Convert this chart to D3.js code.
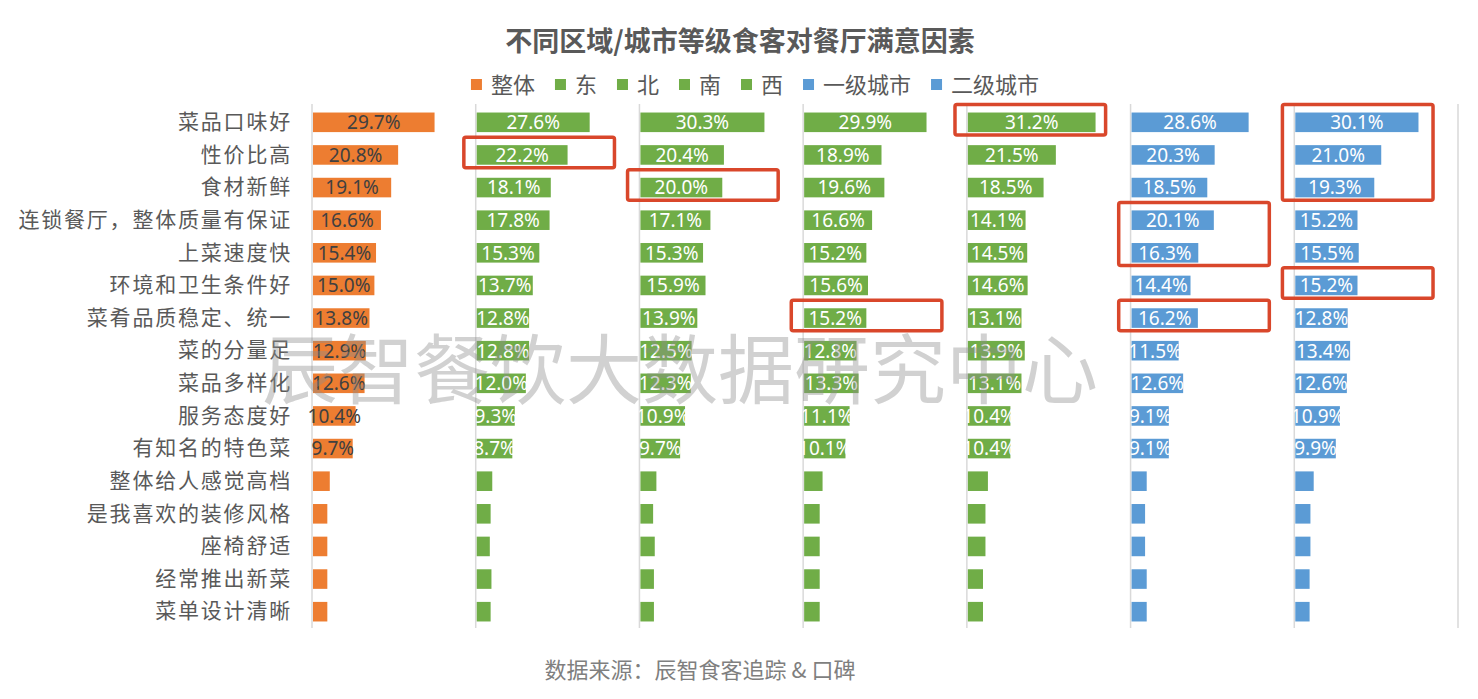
<!DOCTYPE html>
<html>
<head>
<meta charset="utf-8">
<script src="https://cdn.jsdelivr.net/npm/d3@7"></script>
<style>
  body { margin: 0; background: #fff; }
  svg { display: block; font-family: "Noto Sans CJK SC", "Noto Sans", sans-serif; }
</style>
</head>
<body>
<svg></svg>
<script>
// categories (top to bottom)
const categories = ["菜品口味好", "性价比高", "食材新鲜", "连锁餐厅，整体质量有保证", "上菜速度快",
  "环境和卫生条件好", "菜肴品质稳定、统一", "菜的分量足", "菜品多样化", "服务态度好", "有知名的特色菜",
  "整体给人感觉高档", "是我喜欢的装修风格", "座椅舒适", "经常推出新菜", "菜单设计清晰"];

const panels = ["整体", "东", "北", "南", "西", "一级城市", "二级城市"];
const panelColors = ["#ED7D31", "#70AD47", "#70AD47", "#70AD47", "#70AD47", "#5B9BD5", "#5B9BD5"];

// values in % (hidden ones estimated)
const vOverall = [29.7, 20.8, 19.1, 16.6, 15.4, 15.0, 13.8, 12.9, 12.6, 10.4, 9.7, 4.1, 3.5, 3.5, 3.5, 3.5];
const vEast    = [27.6, 22.2, 18.1, 17.8, 15.3, 13.7, 12.8, 12.8, 12.0, 9.3, 8.7, 3.8, 3.4, 3.2, 3.6, 3.4];
const vNorth   = [30.3, 20.4, 20.0, 17.1, 15.3, 15.9, 13.9, 12.5, 12.3, 10.9, 9.7, 3.9, 3.1, 3.5, 3.3, 3.3];
const vSouth   = [29.9, 18.9, 19.6, 16.6, 15.2, 15.6, 15.2, 12.8, 13.3, 11.1, 10.1, 4.5, 3.8, 3.8, 3.8, 3.8];
const vWest    = [31.2, 21.5, 18.5, 14.1, 14.5, 14.6, 13.1, 13.9, 13.1, 10.4, 10.4, 4.9, 4.3, 4.3, 3.7, 3.7];
const vTier1   = [28.6, 20.3, 18.5, 20.1, 16.3, 14.4, 16.2, 11.5, 12.6, 9.1, 9.1, 3.7, 3.3, 3.3, 3.7, 3.7];
const vTier2   = [30.1, 21.0, 19.3, 15.2, 15.5, 15.2, 12.8, 13.4, 12.6, 10.9, 9.9, 4.5, 3.7, 3.7, 3.5, 3.5];
const panelValues = [vOverall, vEast, vNorth, vSouth, vWest, vTier1, vTier2];

const labeledRows = 11; // only the first 11 rows carry value labels

// red highlight boxes: panel, first row, last row
const highlights = [
  { panel: "西", from: 0, to: 0 },
  { panel: "东", from: 1, to: 1 },
  { panel: "北", from: 2, to: 2 },
  { panel: "一级城市", from: 3, to: 4 },
  { panel: "二级城市", from: 0, to: 2 },
  { panel: "二级城市", from: 5, to: 5 },
  { panel: "南", from: 6, to: 6 },
  { panel: "一级城市", from: 6, to: 6 }
];

const title = "不同区域/城市等级食客对餐厅满意因素";
const source = "数据来源：辰智食客追踪 & 口碑";
const watermark = "辰智餐饮大数据研究中心";

const width = 1478, height = 699;
const svg = d3.select("svg").attr("width", width).attr("height", height);

const panelScale = d3.scaleBand().domain(panels).range([312, 1458]);
const valueScale = d3.scaleLinear().domain([0, 40]).range([0, panelScale.bandwidth()]);
const rowScale = d3.scaleBand().domain(categories).range([106, 628])
  .paddingInner(0.4).paddingOuter(0.2);

// title
svg.append("text")
  .attr("x", 740).attr("y", 51)
  .attr("text-anchor", "middle")
  .attr("font-size", 27).attr("font-weight", "bold")
  .attr("fill", "#595959")
  .text(title);

// legend
let legend = svg.append("g");
let lx = 0;
panels.forEach((p, i) => {
  let g = legend.append("g").attr("transform", "translate(" + lx + ",0)");
  g.append("rect").attr("x", 0).attr("y", -6).attr("width", 11).attr("height", 11)
    .attr("fill", panelColors[i]);
  let t = g.append("text").attr("x", 20).attr("y", 0).attr("dy", "0.35em")
    .attr("font-size", 22).attr("fill", "#595959").text(p);
  lx += 20 + t.node().getComputedTextLength() + 20;
});
legend.attr("transform", "translate(" + (755 - (lx - 20) / 2) + ",85)");

// category axis
let yAxis = svg.append("g")
  .attr("transform", "translate(292,0)")
  .call(d3.axisLeft(rowScale).tickSize(0).tickPadding(0));
yAxis.select(".domain").remove();
yAxis.selectAll("text")
  .attr("font-size", 21).attr("fill", "#595959")
  .attr("letter-spacing", 1.8)
  .style("font-family", "'Noto Sans CJK SC', sans-serif");

// vertical grid lines at each panel edge
const edges = panels.map(p => panelScale(p)).concat([panelScale.range()[1]]);
svg.append("g").selectAll("line")
  .data(edges).enter().append("line")
  .attr("x1", d => d).attr("x2", d => d)
  .attr("y1", 104).attr("y2", 628)
  .attr("stroke", "#d9d9d9").attr("stroke-width", 1.5);

// clip paths so labels do not spill left of their panel axis
let defs = svg.append("defs");
panels.forEach((p, i) => {
  defs.append("clipPath").attr("id", "clip" + i)
    .append("rect")
    .attr("x", i == 0 ? 0 : panelScale(p))
    .attr("y", 0)
    .attr("width", i == 0 ? panelScale(p) + panelScale.bandwidth() : panelScale.bandwidth())
    .attr("height", height);
});

// panels
panels.forEach((p, i) => {
  let data = categories.map((c, j) => ({ cat: c, value: panelValues[i][j], idx: j }));
  let g = svg.append("g").attr("transform", "translate(" + panelScale(p) + ",0)");

  g.selectAll("rect")
    .data(data).enter().append("rect")
    .attr("x", 1)
    .attr("y", d => rowScale(d.cat))
    .attr("width", d => valueScale(d.value))
    .attr("height", rowScale.bandwidth())
    .attr("fill", panelColors[i]);

  svg.append("g")
    .attr("clip-path", "url(#clip" + i + ")")
    .selectAll("text")
    .data(data.filter(d => d.idx < labeledRows)).enter().append("text")
    .attr("x", d => panelScale(p) + 1 + valueScale(d.value) / 2)
    .attr("y", d => rowScale(d.cat) + rowScale.bandwidth() / 2)
    .attr("dy", "0.36em")
    .attr("text-anchor", "middle")
    .attr("font-size", 19)
    .style("font-family", "'Noto Sans', sans-serif")
    .attr("fill", i == 0 ? "#404040" : "#ffffff")
    .text(d => d.value.toFixed(1) + "%");
});

// watermark
svg.append("text")
  .attr("x", 680).attr("y", 398)
  .attr("text-anchor", "middle")
  .attr("font-size", 76)
  .attr("fill", "#8c8c8c").attr("fill-opacity", 0.4)
  .text(watermark);

// red highlight boxes
svg.append("g").selectAll("rect")
  .data(highlights).enter().append("rect")
  .attr("x", d => panelScale(d.panel) + valueScale(-2.9))
  .attr("y", d => rowScale(categories[d.from]) - 8)
  .attr("width", valueScale(36.8))
  .attr("height", d => rowScale(categories[d.to]) + rowScale.bandwidth() + 3 - (rowScale(categories[d.from]) - 8))
  .attr("rx", 2)
  .attr("fill", "none")
  .attr("stroke", "#D9472B")
  .attr("stroke-width", 3.5);

// source note
svg.append("text")
  .attr("x", 700).attr("y", 678)
  .attr("text-anchor", "middle")
  .attr("font-size", 22)
  .attr("fill", "#7f7f7f")
  .text(source);
</script>
</body>
</html>
